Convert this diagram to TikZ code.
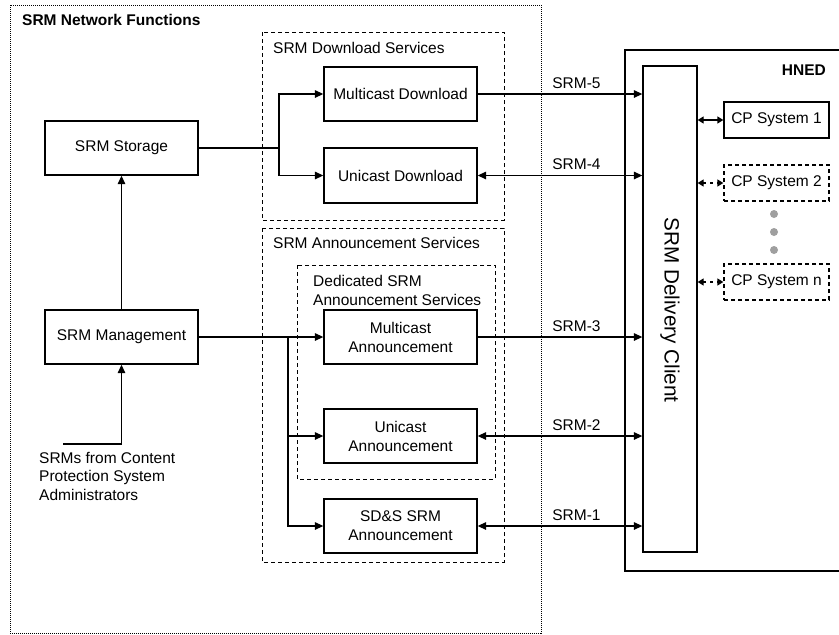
\documentclass[tikz,border=0pt]{standalone}
\usepackage{fontspec}
\setmainfont{Liberation Sans}
\usetikzlibrary{arrows.meta}
\tikzset{
  every node/.style={font=\fontsize{15.5}{19}\selectfont},
  box/.style={draw, line width=1.3pt, minimum width=153pt, minimum height=54pt, align=center, inner sep=2pt},
  cpbox/.style={draw, line width=1.3pt, minimum width=105pt, minimum height=36pt, inner sep=2pt},
  dbox/.style={cpbox, dash pattern=on 4pt off 3pt},
  cont/.style={draw, line width=1pt, dash pattern=on 4pt off 3pt},
  conn/.style={line width=1.3pt},
  arr/.style={conn, -{Triangle[length=8.5pt,width=7.5pt]}},
  darr/.style={conn, {Triangle[length=8.5pt,width=7.5pt]}-{Triangle[length=8.5pt,width=7.5pt]}},
  sarr/.style={conn, {Triangle[length=6pt,width=7pt]}-{Triangle[length=6pt,width=7pt]}},
  lbl/.style={above=2pt, inner sep=3pt, pos=0.6},
  ttl/.style={anchor=west, inner sep=0pt, align=left},
}
\begin{document}
\begin{tikzpicture}[x=1pt,y=-1pt]
\useasboundingbox (0,0) rectangle (839,635);
% containers
\draw[line width=0.8pt, dash pattern=on 1pt off 1pt] (10,5) rectangle (541,633);
\node[ttl, font=\fontsize{15.5}{19}\selectfont\bfseries] (nf) at (22,20) {SRM Network Functions};
\draw[cont] (262,32) rectangle (504,220);
\node[ttl] (dls) at (273,48) {SRM Download Services};
\draw[cont] (262,228) rectangle (504,562);
\node[ttl] (ans) at (273,243) {SRM Announcement Services};
\draw[cont] (297,265) rectangle (495,479);
\node[ttl] (dan) at (313,290) {Dedicated SRM\\Announcement Services};
\draw[line width=1.3pt] (839,50) -- (625,50) -- (625,571) -- (839,571);
\node[anchor=east, inner sep=0pt, font=\fontsize{15.5}{19}\selectfont\bfseries] (hned) at (826,70) {HNED};
% boxes
\node[box] (storage) at (121.5,148) {SRM Storage};
\node[box] (mgmt) at (121.5,337) {SRM Management};
\node[box] (mdl) at (400.5,94) {Multicast Download};
\node[box, minimum height=55pt] (udl) at (400.5,175.5) {Unicast Download};
\node[box] (mann) at (400.5,337) {Multicast\\Announcement};
\node[box] (uann) at (400.5,436) {Unicast\\Announcement};
\node[box] (sds) at (400.5,526) {SD\&S SRM\\Announcement};
\node[draw, line width=1.3pt, minimum width=54pt, minimum height=486pt, inner sep=0pt] (client) at (670,309) {};
\node[rotate=-90, font=\fontsize{20.7}{24}\selectfont, inner sep=0pt] (clientlbl) at (670,310) {SRM Delivery Client};
\node[cpbox] (cp1) at (776.5,120) {CP System 1};
\node[dbox] (cp2) at (776.5,183) {CP System 2};
\node[dbox] (cpn) at (776.5,282) {CP System n};
\foreach \yy/\nm in {214/d1,232/d2,250/d3}
  \fill[gray!75] (774,\yy) circle (4pt) coordinate (\nm);
\node[align=left, anchor=north west, inner sep=0pt, font=\fontsize{15.5}{18.5}\selectfont] (srcl) at (39,452) {SRMs from Content\\Protection System\\Administrators};
% junctions
\coordinate (j1) at (279,148);
\coordinate (j2) at (288,337);
\coordinate (src) at (63,444);
% connectors
\draw[conn] (storage.east) -- (j1);
\draw[arr] (j1) |- (mdl.west);
\draw[arr] (j1) |- (udl.west);
\draw[arr] (mgmt.east) -- (mann.west);
\draw[arr] (j2) |- (uann.west);
\draw[arr] (j2) |- (sds.west);
\draw[arr] (mgmt.north) -- (storage.south);
\draw[arr] (src) -| (mgmt.south);
\draw[arr] (mdl.east) -- (mdl.east -| client.west) node[lbl] {SRM-5};
\draw[darr] (udl.east) -- (udl.east -| client.west) node[lbl] {SRM-4};
\draw[arr] (mann.east) -- (mann.east -| client.west) node[lbl] {SRM-3};
\draw[darr] (uann.east) -- (uann.east -| client.west) node[lbl] {SRM-2};
\draw[darr] (sds.east) -- (sds.east -| client.west) node[lbl] {SRM-1};
\draw[sarr] (cp1.west -| client.east) -- (cp1.west);
\draw[sarr, dash pattern=on 3pt off 4pt] (cp2.west -| client.east) -- (cp2.west);
\draw[sarr, dash pattern=on 3pt off 4pt] (cpn.west -| client.east) -- (cpn.west);
\end{tikzpicture}
\end{document}
